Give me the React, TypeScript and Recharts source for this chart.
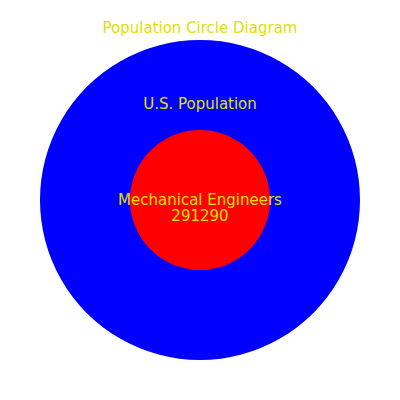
import { PieChart, Pie, Cell, Label } from 'recharts';

const circleNames = ['U.S. Population', 'Mechanical Engineers'];
const circleValues = [1, 1];
const engineerCount = 291290;
const circleColors = ['#0000ff', '#ff0000'];

const TEXT_COLOR = '#e0e000';
const FONT = '"DejaVu Sans", sans-serif';

const outerData = [{ name: circleNames[0], value: circleValues[0] }];
const innerData = [{ name: circleNames[1], value: circleValues[1] }];

// all text drawn in the inner pie's label layer so it sits on top of both circles
const Labels = () => (
  <g fontFamily={FONT} fontSize={15} fill={TEXT_COLOR} textAnchor="middle" dominantBaseline="central">
    <text x={200} y={28}>Population Circle Diagram</text>
    <text x={200} y={104}>{circleNames[0]}</text>
    <text x={200} y={200}>{circleNames[1]}</text>
    <text x={200} y={216}>{engineerCount}</text>
  </g>
);

export default function App() {
  return (
    <div style={{ position: 'absolute', left: 0, top: 0, width: 400, height: 400, background: '#fff' }}>
      <PieChart width={400} height={400} margin={{ top: 0, right: 0, bottom: 0, left: 0 }}>
        <Pie
          data={outerData}
          dataKey="value"
          cx={200}
          cy={200}
          innerRadius={0}
          outerRadius={160}
          startAngle={90}
          endAngle={-270}
          stroke="none"
          isAnimationActive={false}
        >
          <Cell fill={circleColors[0]} />
        </Pie>
        <Pie
          data={innerData}
          dataKey="value"
          cx={200}
          cy={200}
          innerRadius={0}
          outerRadius={70}
          startAngle={90}
          endAngle={-270}
          stroke="none"
          isAnimationActive={false}
        >
          <Cell fill={circleColors[1]} />
          <Label position="center" content={Labels} />
        </Pie>
      </PieChart>
    </div>
  );
}
